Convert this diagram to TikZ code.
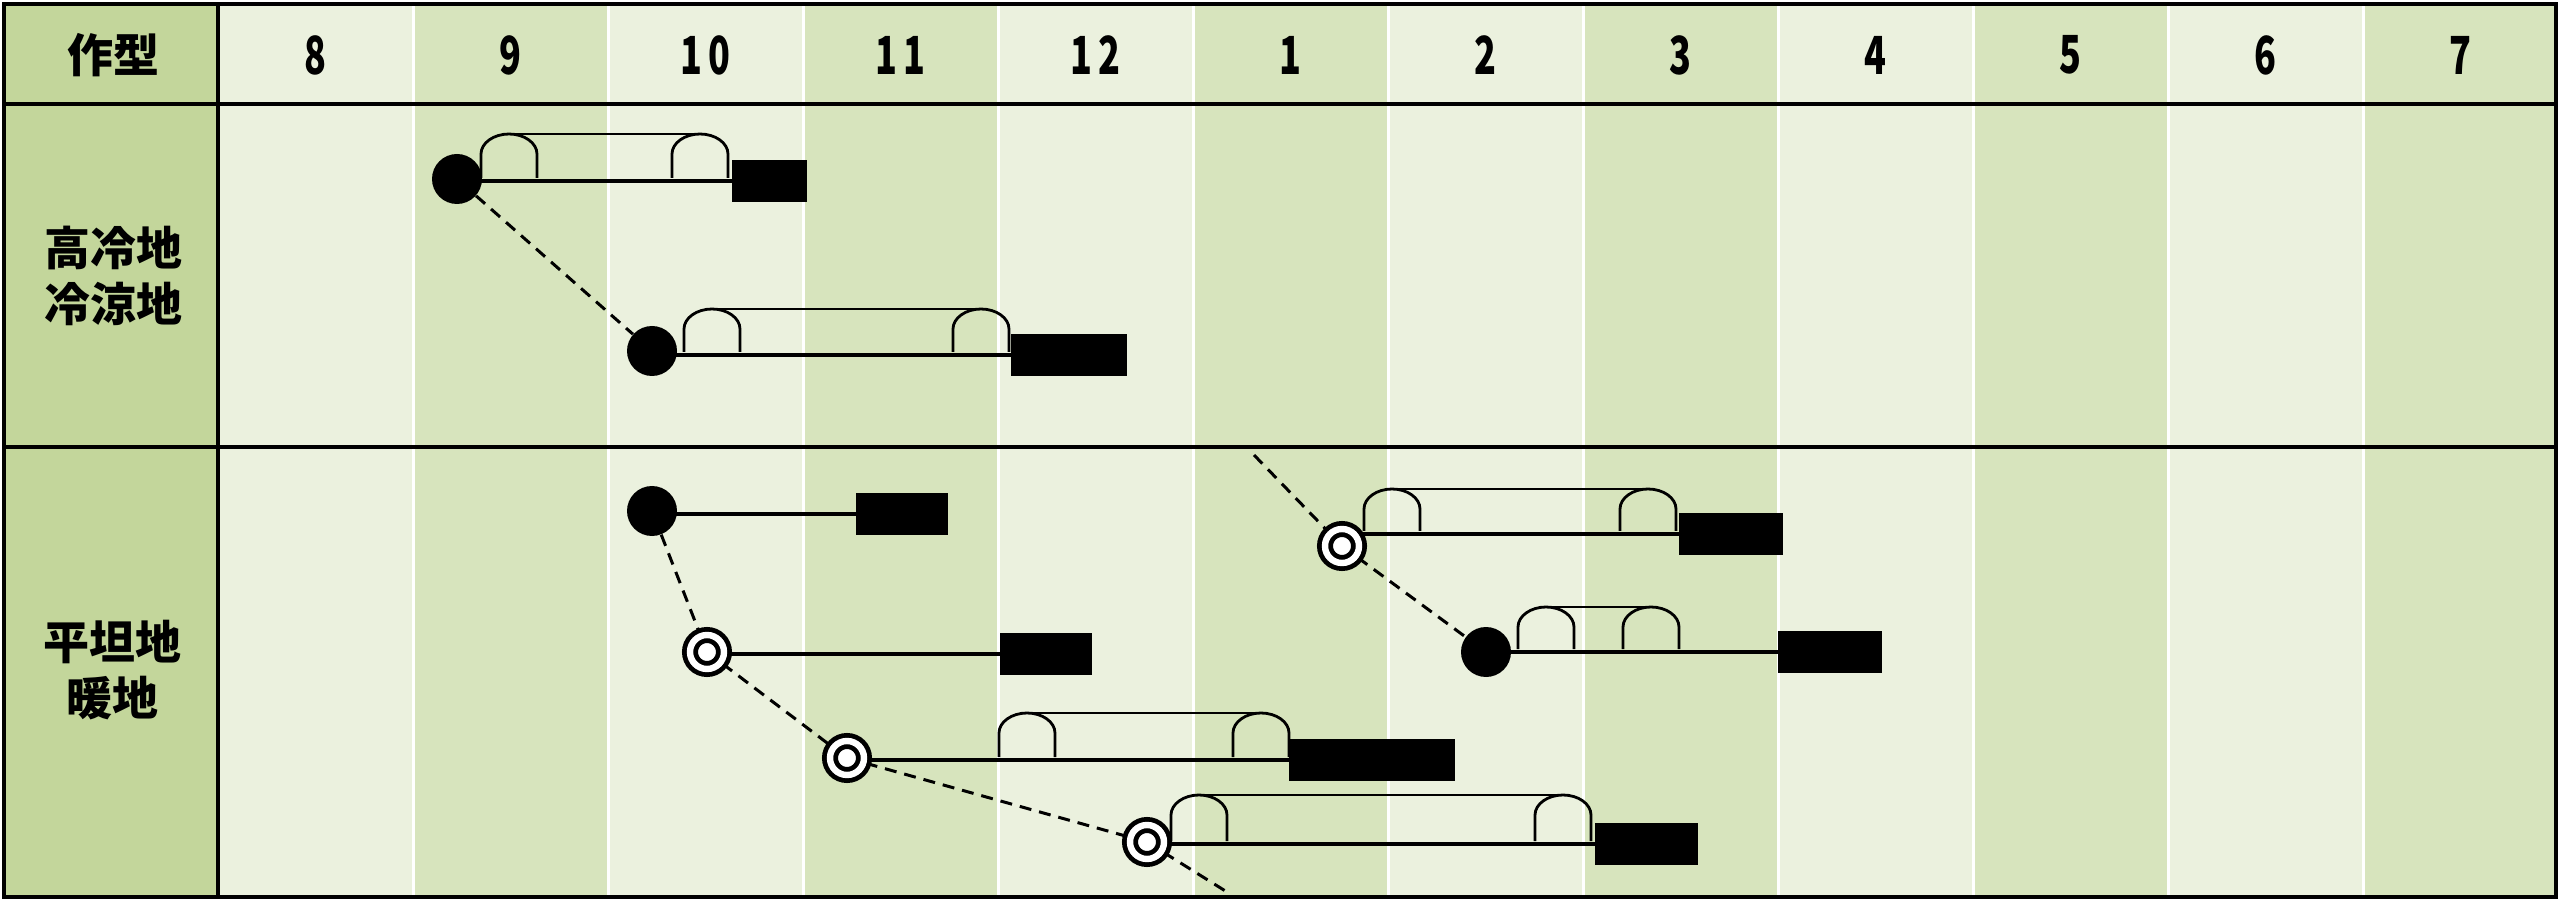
\documentclass[tikz,border=0pt]{standalone}
\usepackage{fontspec}
\usepackage{graphicx}
\newfontfamily\jp{Noto Sans CJK JP}
\usepackage{tikz}
\usetikzlibrary{calc}
\pgfdeclarelayer{back}
\pgfdeclarelayer{lines}
\pgfsetlayers{back,lines,main}
\definecolor{lightgreen}{HTML}{EBF1DE}
\definecolor{midgreen}{HTML}{D7E4BD}
\definecolor{sidegreen}{HTML}{C3D69B}

% one hood of a tunnel: left leg x, top y, line y
\newcommand{\tunarc}[3]{%
  \draw[tun] (#1,#3-3) -- (#1,#2+20) .. controls (#1,#2+9) and (#1+12.6,#2) .. (#1+28,#2)
    .. controls (#1+43.4,#2) and (#1+56,#2+9) .. (#1+56,#2+20) -- (#1+56,#3-3);}
\newcommand{\tunnel}[4]{%
  \tunarc{#1}{#3}{#4}
  \tunarc{#2}{#3}{#4}
  \draw[tun] (#1+28,#3) -- (#2+28,#3);}

\begin{document}
\begin{tikzpicture}[x=0.5pt,y=0.5pt,yscale=-1,
    dot/.style={circle,fill=black,inner sep=0pt,minimum size=25pt},
    ring/.style={circle,draw,fill=white,double,double distance=3.2pt,line width=2.4pt,inner sep=0pt,minimum size=17pt},
    bar/.style={fill=black,inner sep=0pt,minimum height=21pt},
    link/.style={line width=1.6pt},
    tun/.style={line width=1.4pt},
    guide/.style={line width=1.5pt,dash pattern=on 6pt off 4pt},
    lab/.style={font=\jp\bfseries\fontsize{23}{28}\selectfont,align=center,inner sep=0pt},
    mon/.style={font=\jp\bfseries\fontsize{25}{25}\selectfont,inner sep=0pt}]
  \useasboundingbox (0,0) rectangle (2560,903);

  % table
  \begin{pgfonlayer}{back}
    \fill[sidegreen] (4,4) rectangle (218,897);
    \foreach \i in {0,2,...,10}
      \fill[lightgreen] (218+195*\i,4) rectangle (413+195*\i,897);
    \foreach \i in {1,3,...,11}
      \fill[midgreen] (218+195*\i,4) rectangle (413+195*\i,897);
    \foreach \i in {1,...,11}
      \draw[white,line width=1.5pt] (218+195*\i,4) -- (218+195*\i,897);
    \draw[line width=2pt] (4,4) rectangle (2556,897);
    \draw[line width=2.2pt] (4,104) -- (2556,104);
    \draw[line width=1.8pt] (4,447) -- (2556,447);
    \draw[line width=1.8pt] (218,4) -- (218,897);
  \end{pgfonlayer}

  \node[lab] (crop) at (113,55) {作型};
  \foreach \m [count=\i from 0] in {8,9,{1\kern4pt0},{1\kern4pt1},{1\kern4pt2},1,2,3,4,5,6,7}
    \node[mon] (m\i) at (315.5+195*\i,55) {\scalebox{0.72}[1.05]{\m}};
  \node[lab] (cold) at (113,276) {高冷地\\冷涼地};
  \node[lab] (warm) at (112,670) {平坦地\\暖地};

  % sowing / planting
  \node[dot] (p1) at (457,179) {};
  \node[dot] (p2) at (652,351) {};
  \node[dot] (p3) at (652,511) {};
  \node[ring] (p4) at (707,652) {};
  \node[ring] (p5) at (847,758) {};
  \node[ring] (p6) at (1147,842) {};
  \node[ring] (p7) at (1342,546) {};
  \node[dot] (p8) at (1486,652) {};
  % harvest
  \node[bar,minimum width=37.5pt] (h1) at (769.5,181) {};
  \node[bar,minimum width=58pt] (h2) at (1069,355) {};
  \node[bar,minimum width=46pt] (h3) at (902,514) {};
  \node[bar,minimum width=46pt] (h4) at (1046,654) {};
  \node[bar,minimum width=83pt] (h5) at (1372,760) {};
  \node[bar,minimum width=51.5pt] (h6) at (1646.5,844) {};
  \node[bar,minimum width=52pt] (h7) at (1731,534) {};
  \node[bar,minimum width=52pt] (h8) at (1830,652) {};
  \coordinate (top) at (1254,455);
  \coordinate (bot) at (1227,892);

  \begin{pgfonlayer}{lines}
    \foreach \k in {1,...,8}
      \draw[link] (h\k.west -| p\k) -- (h\k.west);
    \draw[guide] (p1) -- (p2);
    \draw[guide] (p3) -- (p4) -- (p5) -- (p6) -- (bot);
    \draw[guide] (top) -- (p7) -- (p8);
    \tunnel{481}{672}{134}{181}
    \tunnel{684}{953}{309}{355}
    \tunnel{999}{1233}{713}{760}
    \tunnel{1171}{1535}{795}{844}
    \tunnel{1364}{1620}{489}{534}
    \tunnel{1518}{1623}{607}{652}
  \end{pgfonlayer}
\end{tikzpicture}
\end{document}
